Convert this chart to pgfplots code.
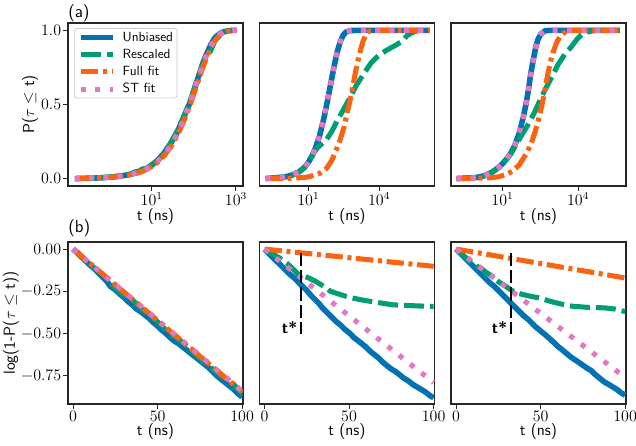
\documentclass[border=0pt]{standalone}
\usepackage{fix-cm}
\usepackage{fontspec}
\usepackage{pgfplots}
\pgfplotsset{compat=1.18}
\definecolor{cblue}{HTML}{0173B2}
\definecolor{cgreen}{HTML}{029E73}
\definecolor{corange}{HTML}{FA6410}
\definecolor{cpink}{HTML}{E377C2}
\newcommand{\lblfont}{\fontsize{12}{14}\selectfont\sffamily}
\tikzset{
  myub/.style={cblue, line width=4.2pt, line join=round},
  myrs/.style={cgreen, line width=3.8pt, line join=round, dash pattern=on 15pt off 4.5pt},
  myff/.style={corange, line width=3.8pt, line join=round, dash pattern=on 13pt off 3.5pt on 3pt off 3.5pt},
  myst/.style={cpink, line width=3.8pt, line join=round, dash pattern=on 3.8pt off 6.9pt},
  mytstar/.style={black, line width=2pt, dash pattern=on 10pt off 3pt},
}
\pgfplotsset{every axis/.append style={scale only axis, width=131.25pt,
    axis line style={black!85,line width=0.8pt},
    tick style={black!85,line width=0.8pt},
    tick align=outside, major tick length=3.75pt,
    xtick pos=lower, ytick pos=left,
    tick label style={font=\fontsize{12}{14}\selectfont, inner sep=1.2pt},
    xlabel style={font=\lblfont, at={(axis description cs:0.5,0)}, anchor=center},
    ylabel style={font=\lblfont, anchor=center},
    clip mode=individual, xlabel={t (ns)}}}
\begin{document}
\begin{tikzpicture}
\path[use as bounding box] (0,0) rectangle (477pt,334.5pt);

% ---------------- (a) left
\begin{axis}[at={(51pt,195pt)}, anchor=south west,
  height=122.25pt, xmode=log, ymin=-0.05, ymax=1.05,
  minor x tick style={draw=none}, xlabel style={yshift=-23pt},
  xmin=0.103, xmax=1470, xtick={10,1000},
  ytick={0,0.5,1},
  yticklabel style={/pgf/number format/fixed, /pgf/number format/fixed zerofill, /pgf/number format/precision=1},
  ylabel={P($\tau \leq$ t)},
  ylabel style={at={(axis description cs:-0.217,0.5)}},
  legend style={at={(0.034,0.969)}, anchor=north west, draw=black!20, line width=0.6pt,
    rounded corners=2pt, fill=white, fill opacity=0.8, text opacity=1,
    font=\fontsize{10}{12}\selectfont\sffamily, inner xsep=3pt, inner ysep=2pt,
    row sep=3.4pt, column sep=5pt,
    nodes={inner sep=0pt, text height=7.5pt, text depth=2pt}},
  legend cell align=left,
  legend image code/.code={\draw[#1] (0pt,0pt) -- (24pt,0pt);},
]
\addplot[myub] coordinates {(0.15,0)(0.3,0.002)(0.5,0.004)(1,0.009)(1.5,0.014)(2,0.019)(3,0.028)(4,0.036)(5,0.045)(7,0.062)(10,0.09)(14,0.125)(20,0.175)(28,0.235)(40,0.31)(56,0.405)(80,0.51)(100,0.585)(126,0.68)(160,0.77)(200,0.84)(250,0.9)(316,0.95)(400,0.975)(500,0.99)(630,0.997)(800,1)(1050,1)};
\addlegendentry{Unbiased}
\addplot[myrs] coordinates {(0.15,0)(0.5,0.004)(1,0.01)(2,0.02)(3,0.03)(4,0.045)(5,0.05)(6,0.065)(8,0.07)(10,0.095)(14,0.12)(20,0.17)(28,0.24)(40,0.32)(56,0.41)(80,0.52)(100,0.6)(126,0.69)(160,0.76)(200,0.83)(250,0.86)(316,0.93)(400,0.96)(500,0.985)(630,0.995)(800,1)(1050,1)};
\addlegendentry{Rescaled}
\addplot[myff] coordinates {(0.15,0)(1,0.008)(2,0.017)(3,0.025)(5,0.041)(7,0.057)(10,0.081)(14,0.112)(20,0.156)(28,0.211)(40,0.288)(56,0.378)(80,0.492)(100,0.571)(126,0.656)(160,0.742)(200,0.816)(250,0.88)(316,0.931)(400,0.966)(500,0.986)(630,0.995)(800,0.999)(1050,1)};
\addlegendentry{Full fit}
\addplot[myst] coordinates {(0.15,0)(1,0.009)(2,0.018)(3,0.026)(5,0.044)(7,0.061)(10,0.085)(14,0.118)(20,0.164)(28,0.221)(40,0.3)(56,0.393)(80,0.51)(100,0.59)(126,0.675)(160,0.76)(200,0.832)(250,0.893)(316,0.94)(400,0.972)(500,0.988)(630,0.996)(800,0.999)(1050,1)};
\addlegendentry{ST fit}
\node[anchor=west, inner sep=0pt, font=\fontsize{13}{15}\selectfont\sffamily] at (rel axis cs:0,1) [yshift=7.7pt] {(a)};
\end{axis}

% ---------------- (a) middle
\begin{axis}[at={(194.6pt,195pt)}, anchor=south west,
  height=122.25pt, xmode=log, ymin=-0.05, ymax=1.05,
  minor x tick style={draw=none}, xlabel style={yshift=-23pt},
  xmin=0.085, xmax=2.2e6, xtick={10,10000}, ytick=\empty]
\addplot[myub] coordinates {(0.155,0)(0.5,0.006)(1,0.011)(2,0.023)(4,0.045)(7,0.077)(10,0.109)(15,0.159)(20,0.205)(30,0.29)(45,0.404)(65,0.526)(90,0.645)(125,0.762)(170,0.858)(230,0.929)(300,0.968)(400,0.99)(600,0.999)(1000,1)(1e4,1)(1e5,1)(1.4e6,1)};
\addplot[myrs] coordinates {(0.155,0)(1,0.011)(2,0.023)(4,0.045)(7,0.077)(10,0.11)(14,0.15)(18,0.18)(25,0.21)(40,0.24)(60,0.265)(100,0.32)(160,0.385)(250,0.44)(400,0.5)(650,0.56)(1000,0.62)(1500,0.665)(2500,0.72)(4500,0.78)(8000,0.82)(20000,0.865)(50000,0.9)(1e5,0.93)(1.5e5,0.965)(2.5e5,0.985)(4e5,0.998)(6e5,1)(1.4e6,1)};
\addplot[myff] coordinates {(0.155,0)(1,0.001)(3,0.003)(10,0.011)(30,0.035)(60,0.07)(100,0.125)(150,0.19)(220,0.26)(320,0.345)(450,0.45)(600,0.535)(800,0.64)(1000,0.72)(1400,0.83)(2000,0.92)(2800,0.975)(3800,0.995)(5500,1)(1e5,1)(1.4e6,1)};
\addplot[myst] coordinates {(0.155,0)(1,0.011)(2,0.023)(4,0.045)(7,0.077)(10,0.108)(15,0.158)(20,0.205)(30,0.292)(45,0.405)(65,0.527)(90,0.645)(125,0.762)(170,0.858)(230,0.929)(300,0.968)(400,0.99)(600,0.999)(1000,1)(1e4,1)(1e5,1)(1.4e6,1)};
\end{axis}

% ---------------- (a) right
\begin{axis}[at={(338.25pt,195pt)}, anchor=south west,
  height=122.25pt, xmode=log, ymin=-0.05, ymax=1.05,
  minor x tick style={draw=none}, xlabel style={yshift=-23pt},
  xmin=0.091, xmax=7.9e5, xtick={10,10000}, ytick=\empty]
\addplot[myub] coordinates {(0.15,0)(0.5,0.004)(1,0.008)(2,0.02)(4,0.045)(7,0.075)(10,0.1)(15,0.135)(22,0.175)(31,0.225)(45,0.3)(66,0.41)(85,0.5)(105,0.59)(130,0.7)(166,0.8)(210,0.89)(257,0.94)(330,0.975)(480,0.997)(700,1)(1e4,1)(4.5e5,1)};
\addplot[myrs] coordinates {(0.15,0)(1,0.008)(2,0.02)(4,0.045)(7,0.075)(10,0.1)(15,0.135)(20,0.16)(30,0.21)(56,0.29)(100,0.36)(190,0.45)(350,0.55)(650,0.64)(1000,0.7)(1600,0.77)(3000,0.84)(5400,0.89)(9000,0.94)(13500,0.97)(25000,0.99)(46000,1)(4.5e5,1)};
\addplot[myff] coordinates {(0.15,0)(1,0.002)(3,0.005)(7,0.012)(15,0.03)(25,0.05)(45,0.09)(90,0.17)(140,0.24)(200,0.32)(280,0.41)(360,0.49)(460,0.58)(560,0.66)(750,0.77)(1000,0.85)(1500,0.93)(2200,0.97)(3500,0.997)(5000,1)(4.5e5,1)};
\addplot[myst] coordinates {(0.15,0)(0.5,0.004)(1,0.008)(2,0.02)(4,0.045)(7,0.075)(10,0.1)(15,0.137)(22,0.178)(31,0.228)(45,0.302)(66,0.41)(85,0.5)(105,0.59)(130,0.695)(166,0.795)(210,0.885)(257,0.94)(330,0.975)(480,0.997)(700,1)(1e4,1)(4.5e5,1)};
\end{axis}

% ---------------- (b) left
\begin{axis}[at={(51pt,31.5pt)}, anchor=south west,
  height=121.5pt, xmin=-3, xmax=100.5, ymin=-0.917, ymax=0.042, xtick={0,50,100},
  xlabel style={yshift=-21pt},
  ytick={0,-0.25,-0.5,-0.75},
  yticklabel style={/pgf/number format/fixed, /pgf/number format/fixed zerofill, /pgf/number format/precision=2},
  ylabel={log(1-P($\tau \leq$ t))},
  ylabel style={at={(axis description cs:-0.326,0.5)}}]
\addplot[myub] coordinates {(0,0)(2.5,-0.02)(5,-0.045)(7.5,-0.07)(10,-0.095)(12.5,-0.115)(15,-0.14)(17.5,-0.165)(20,-0.19)(22,-0.22)(25,-0.24)(27.5,-0.265)(30,-0.285)(32.5,-0.31)(35,-0.33)(37.5,-0.355)(40,-0.37)(42.5,-0.39)(45,-0.41)(47.5,-0.435)(50,-0.455)(52.5,-0.48)(55,-0.5)(57.5,-0.525)(60,-0.545)(62.5,-0.56)(65,-0.58)(67.5,-0.6)(70,-0.62)(72.5,-0.64)(75,-0.66)(77.5,-0.68)(80,-0.7)(82.5,-0.725)(85,-0.75)(87.5,-0.77)(90,-0.79)(92.5,-0.81)(95,-0.83)(97.5,-0.855)(100,-0.875)};
\addplot[myrs] coordinates {(0,0)(2.5,-0.025)(5,-0.05)(7.5,-0.07)(10,-0.09)(12.5,-0.11)(15,-0.13)(17.5,-0.15)(20,-0.175)(22.5,-0.205)(25,-0.23)(27.5,-0.25)(30,-0.27)(32.5,-0.285)(35,-0.3)(37.5,-0.325)(40,-0.35)(42.5,-0.37)(45,-0.39)(47.5,-0.41)(50,-0.43)(52.5,-0.455)(55,-0.48)(57.5,-0.5)(60,-0.52)(62.5,-0.535)(65,-0.555)(67.5,-0.58)(70,-0.6)(72.5,-0.625)(75,-0.645)(77.5,-0.665)(80,-0.685)(82.5,-0.71)(85,-0.73)(87.5,-0.75)(90,-0.765)(92.5,-0.78)(95,-0.8)(97.5,-0.83)(100,-0.855)};
\addplot[myff] coordinates {(0,0)(100,-0.845)};
\addplot[myst] coordinates {(0,0)(100,-0.84)};
\node[anchor=west, inner sep=0pt, font=\fontsize{13}{15}\selectfont\sffamily] at (rel axis cs:0,1) [yshift=10.5pt] {(b)};
\end{axis}

% ---------------- (b) middle
\begin{axis}[at={(194.6pt,31.5pt)}, anchor=south west,
  height=121.5pt, xmin=-3, xmax=100.5, ymin=-0.917, ymax=0.042, xtick={0,50,100},
  xlabel style={yshift=-21pt}, ytick=\empty]
\addplot[myub] coordinates {(0,0)(2.5,-0.025)(5,-0.05)(7.5,-0.075)(10,-0.1)(12.5,-0.125)(15,-0.15)(17.5,-0.17)(21.4,-0.21)(25,-0.245)(27.5,-0.275)(30,-0.3)(32.5,-0.325)(34,-0.345)(37,-0.375)(40,-0.405)(42.5,-0.43)(45,-0.45)(47.5,-0.475)(50.6,-0.5)(53,-0.525)(55,-0.54)(57.5,-0.56)(60,-0.58)(62.5,-0.605)(65,-0.625)(67.5,-0.645)(70,-0.67)(72.4,-0.69)(75,-0.71)(77.5,-0.725)(80,-0.745)(82.5,-0.765)(85,-0.78)(87.5,-0.8)(90,-0.815)(92.5,-0.83)(95,-0.845)(97.5,-0.865)(100,-0.88)};
\addplot[myrs] coordinates {(0,0)(3,-0.02)(6,-0.035)(10,-0.06)(14,-0.09)(18,-0.13)(20,-0.15)(22,-0.17)(23,-0.16)(26,-0.17)(30,-0.19)(35,-0.22)(39,-0.25)(45,-0.27)(50,-0.285)(57,-0.3)(66,-0.315)(76,-0.33)(87,-0.335)(100,-0.34)};
\addplot[myff] coordinates {(0,0)(100,-0.102)};
\addplot[myst] coordinates {(0,0)(100,-0.79)};
\addplot[mytstar] coordinates {(21.5,-0.022)(21.5,-0.5)};
\node[anchor=east, inner sep=0pt, font=\fontsize{12}{14}\selectfont\sffamily\bfseries] at (axis cs:19.5,-0.467) {t*};
\end{axis}

% ---------------- (b) right
\begin{axis}[at={(338.25pt,31.5pt)}, anchor=south west,
  height=121.5pt, xmin=-3, xmax=100.5, ymin=-0.917, ymax=0.042, xtick={0,50,100},
  xlabel style={yshift=-21pt}, ytick=\empty]
\addplot[myub] coordinates {(0,0)(2.5,-0.025)(5,-0.05)(7.5,-0.075)(10,-0.1)(12.5,-0.125)(15,-0.15)(17.5,-0.175)(20,-0.2)(22.5,-0.22)(25,-0.245)(27.5,-0.27)(30,-0.295)(32.4,-0.319)(35,-0.345)(37.5,-0.37)(40,-0.395)(42.5,-0.415)(45,-0.44)(47,-0.46)(50,-0.485)(52.5,-0.505)(54.9,-0.526)(57.5,-0.55)(60,-0.575)(62,-0.59)(65,-0.615)(68,-0.64)(71,-0.66)(74.5,-0.684)(77.5,-0.705)(80,-0.72)(82,-0.74)(85,-0.765)(87.5,-0.785)(90,-0.8)(92.5,-0.815)(95,-0.83)(97.5,-0.85)(100,-0.865)};
\addplot[myrs] coordinates {(0,0)(4,-0.035)(8,-0.07)(12,-0.1)(15,-0.115)(18,-0.14)(21.6,-0.161)(24,-0.185)(26,-0.2)(28,-0.21)(30,-0.225)(33,-0.245)(36,-0.26)(42,-0.275)(49,-0.289)(56,-0.31)(62,-0.325)(68.6,-0.338)(78,-0.345)(88,-0.348)(94,-0.355)(100,-0.37)};
\addplot[myff] coordinates {(0,0)(100,-0.171)};
\addplot[myst] coordinates {(0,0)(100,-0.76)};
\addplot[mytstar] coordinates {(32.4,-0.022)(32.4,-0.5)};
\node[anchor=east, inner sep=0pt, font=\fontsize{12}{14}\selectfont\sffamily\bfseries] at (axis cs:30.4,-0.467) {t*};
\end{axis}
\end{tikzpicture}
\end{document}
